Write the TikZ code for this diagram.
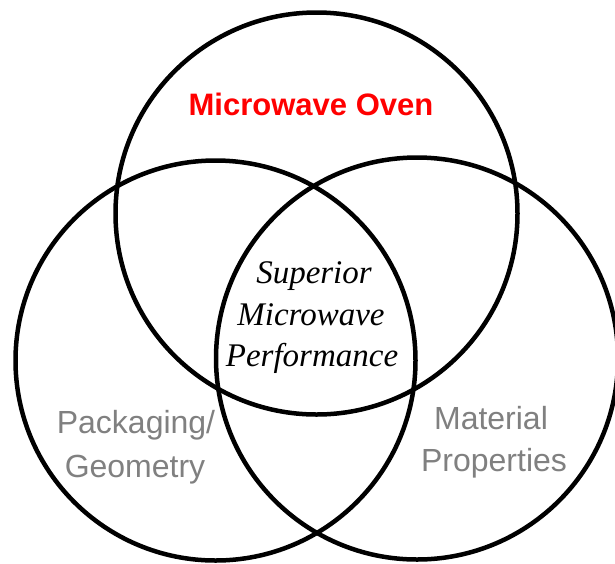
\documentclass[tikz,border=0pt]{standalone}
\usepackage{fontspec}
\setmainfont{Liberation Serif}
\setsansfont{Liberation Sans}
\definecolor{ovenred}{RGB}{255,0,0}
\definecolor{labelgray}{RGB}{128,128,128}
\begin{document}
\begin{tikzpicture}[x=1pt,y=-1pt,
  ring/.style={draw=black,line width=4.5pt},
  ovenlabel/.style={anchor=base,text=ovenred,font=\sffamily\bfseries\fontsize{31}{31}\selectfont,inner sep=0pt},
  centerlabel/.style={anchor=base,text=black,font=\rmfamily\itshape\fontsize{33}{33}\selectfont,inner sep=0pt},
  sidelabel/.style={anchor=base,text=labelgray,font=\sffamily\fontsize{32}{32}\selectfont,inner sep=0pt}]
\useasboundingbox (0,0) rectangle (615,563);
\begin{scope}
\clip (0,0) rectangle (615,563);
\draw[ring] (316.5,213.5) circle[radius=201];
\draw[ring] (215.5,360.5) circle[radius=200];
\draw[ring] (417,358.5) circle[radius=201];
\end{scope}
\node[ovenlabel] (oven) at (311,115) {Microwave Oven};
\node[centerlabel] (sup) at (314,283) {Superior};
\node[centerlabel] (mic) at (311,325) {Microwave};
\node[centerlabel] (perf) at (312,366) {Performance};
\node[sidelabel] (pack) at (136,433) {Packaging/};
\node[sidelabel] (geom) at (135,477) {Geometry};
\node[sidelabel] (mat) at (491,429) {Material};
\node[sidelabel] (prop) at (494,471) {Properties};
\end{tikzpicture}
\end{document}
